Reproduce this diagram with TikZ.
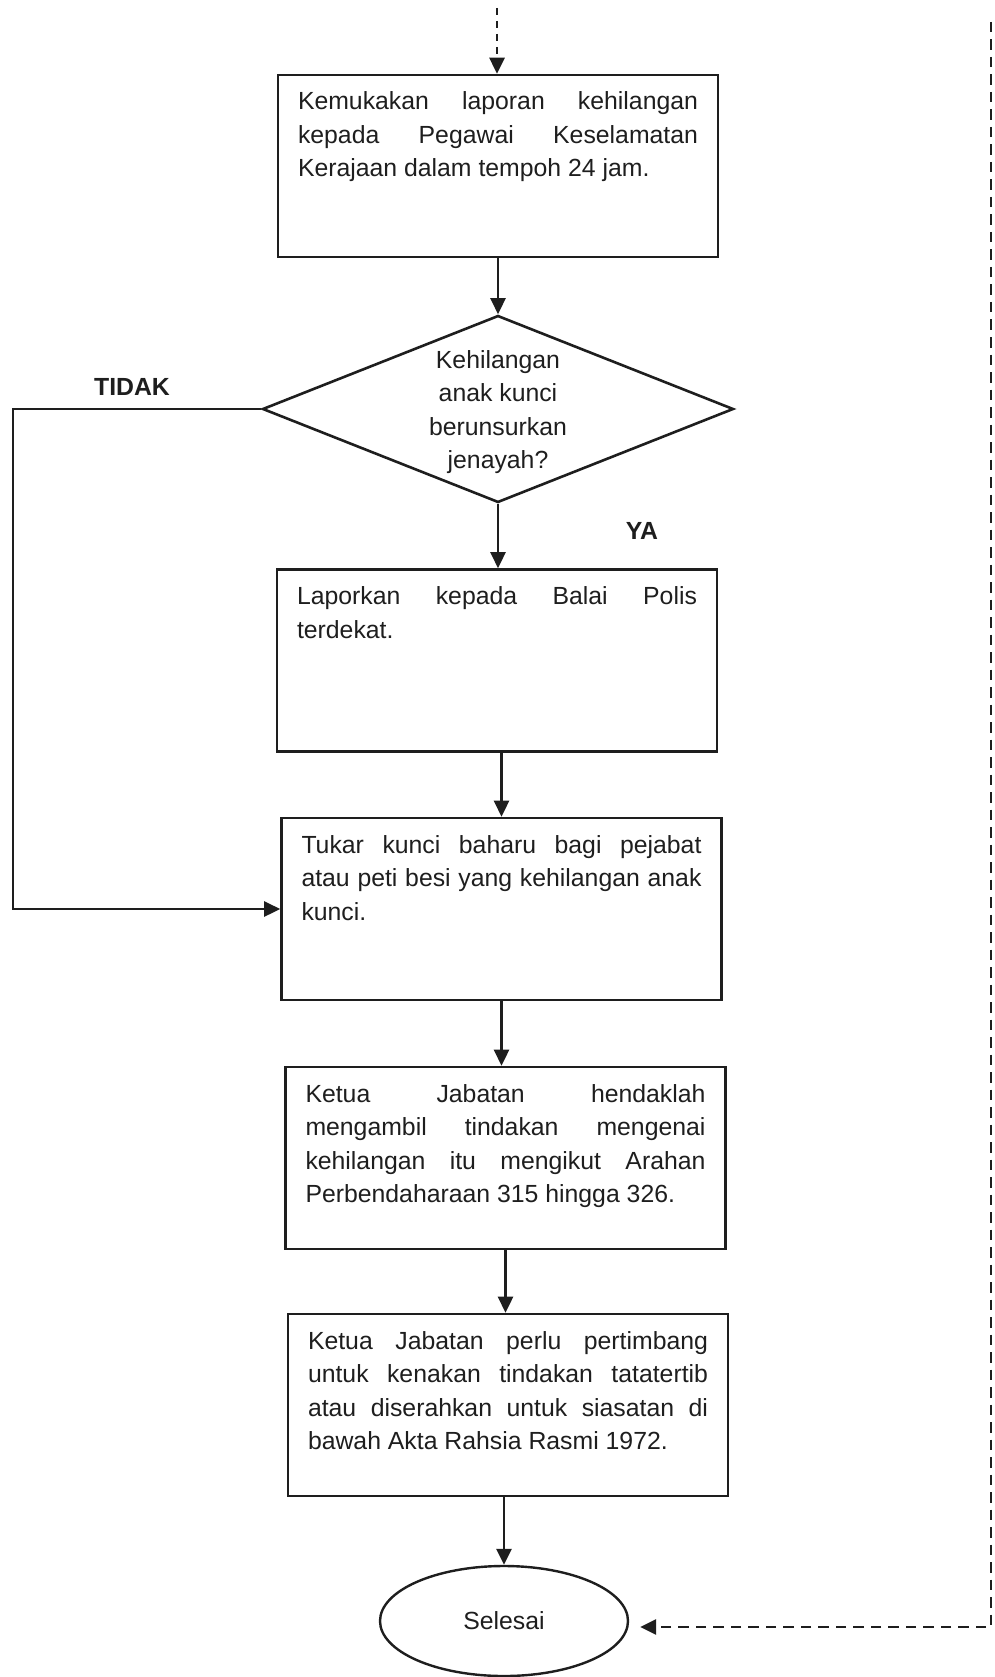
\documentclass[tikz,border=0pt]{standalone}
\usepackage{fontspec}
\setmainfont{Liberation Sans}
\usetikzlibrary{arrows.meta,shapes.geometric}
\definecolor{ink}{HTML}{1E1E1E}
\newcommand{\bxt}[1]{\begin{minipage}[c][182pt][t]{400pt}\hyphenpenalty=10000 \exhyphenpenalty=10000 \tolerance=10000 \hbadness=10000 \rule{0pt}{35pt}#1\end{minipage}}
\begin{document}
\begin{tikzpicture}[x=1pt,y=-1pt,
  txt/.style={font=\fontsize{24.8}{33.5}\selectfont, text=ink},
  proc/.style={txt, draw=ink, line width=2.6pt, inner xsep=20pt, inner ysep=0pt, minimum width=440pt, minimum height=182pt},
  decide/.style={diamond, draw=ink, line width=2.6pt, inner sep=0pt, minimum width=471pt, minimum height=187pt},
  term/.style={ellipse, draw=ink, line width=2.4pt, inner sep=0pt, minimum width=248pt, minimum height=110pt, txt},
  arr/.style={draw=ink, line width=2.6pt, -{Triangle[length=16pt,width=15pt]}},
  dsh/.style={draw=ink, line width=2.8pt, dash pattern=on 10.5pt off 7pt},
  lbl/.style={font=\fontsize{24.8}{30}\selectfont\bfseries, text=ink}
]
\useasboundingbox (0,0) rectangle (994,1677);

\node[proc] (b1) at (498,166) {\bxt{Kemukakan laporan kehilangan\linebreak kepada Pegawai Keselamatan\linebreak Kerajaan dalam tempoh 24 jam.}};
\node[decide] (d) at (498,409) {};
\node[txt, align=center] (dt) at (498,412) {Kehilangan\\anak kunci\\berunsurkan\\jenayah?};
\node[proc] (b2) at (497,660.5) {\bxt{Laporkan kepada Balai Polis\linebreak terdekat.}};
\node[proc] (b3) at (501.5,909) {\bxt{Tukar kunci baharu bagi pejabat\linebreak atau peti besi yang kehilangan anak\linebreak kunci.}};
\node[proc] (b4) at (505.5,1158) {\bxt{Ketua Jabatan hendaklah\linebreak mengambil tindakan mengenai\linebreak kehilangan itu mengikut Arahan\linebreak Perbendaharaan 315 hingga 326.}};
\node[proc] (b5) at (508,1405) {\bxt{Ketua Jabatan perlu pertimbang\linebreak untuk kenakan tindakan tatatertib\linebreak atau diserahkan untuk siasatan di\linebreak bawah Akta Rahsia Rasmi 1972.}};
\node[term] (e) at (504,1621) {Selesai};

\node[lbl] (tidak) at (132,387) {TIDAK};
\node[lbl] (ya) at (642,531) {YA};

\coordinate (topin) at (497,8);
\coordinate (L) at (13,700);
\coordinate (rtop) at (991,22);
\coordinate (rbot) at (991,1627);

\draw[dsh, dash pattern=on 7pt off 6pt, -{Triangle[length=16pt,width=15pt]}] (topin) -- (topin |- b1.north);
\draw[arr] (b1.south -| d.north) -- (d.north);
\draw[arr] (d.south) -- (d.south |- b2.north);
\draw[arr] (b3.north |- b2.south) -- (b3.north);
\draw[arr] (b3.south) -- (b3.south |- b4.north);
\draw[arr] (b4.south) -- (b4.south |- b5.north);
\draw[arr] (e.north |- b5.south) -- (e.north);
\draw[arr] (d.west) -| (L) |- (b3.west);
\draw[dsh, -{Triangle[length=16pt,width=15pt]}, shorten >=11pt] (rtop) -- (rbot) -- (rbot -| e.east);
\end{tikzpicture}
\end{document}
